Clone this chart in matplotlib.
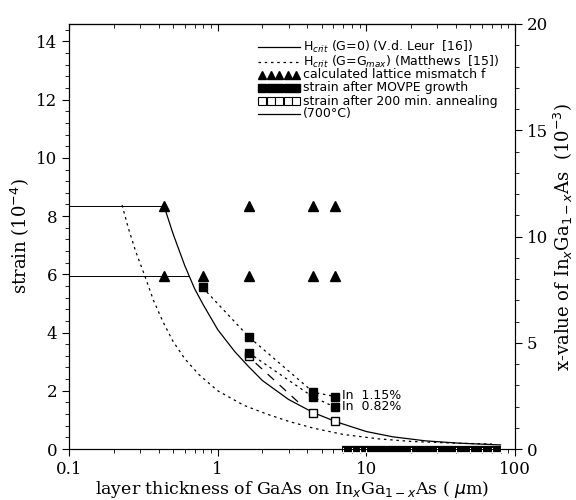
import numpy as np
import matplotlib.pyplot as plt
from matplotlib.ticker import MultipleLocator, LogLocator, NullFormatter

# data
tri_hi_x = [0.435, 1.62, 4.37, 6.17]
tri_hi_y = [8.35, 8.35, 8.35, 8.35]
tri_lo_x = [0.435, 0.79, 1.62, 4.37, 6.17]
tri_lo_y = [5.95, 5.95, 5.95, 5.95, 5.95]

# filled squares (strain after MOVPE growth)
sq115_x = [0.79, 1.62, 4.4, 6.2]
sq115_y = [5.55, 3.85, 1.95, 1.8]
sq082_x = [1.62, 4.4, 6.2]
sq082_y = [3.3, 1.78, 1.43]

# open squares (after annealing)
open_x = [1.62, 4.4, 6.2]
open_y = [3.2, 1.22, 0.95]
anneal_x = [1.8, 3.5]
anneal_y = [2.95, 1.6]

# H_crit G=0 (solid)
hc0_x = [0.435, 0.5, 0.6, 0.7, 0.8, 1.0, 1.3, 1.6, 2.0, 3.0, 4.4, 6.3, 10, 15, 25, 42, 80]
hc0_y = [8.35, 7.4, 6.3, 5.5, 4.95, 4.1, 3.35, 2.85, 2.35, 1.7, 1.25, 0.93, 0.6, 0.42, 0.28, 0.2, 0.14]

# H_crit G=Gmax (dashed)
hcm_x = [0.227, 0.25, 0.28, 0.324, 0.37, 0.43, 0.5, 0.6, 0.75, 1.0, 1.5, 2.14, 3.0, 4.37, 7, 12, 20, 40, 70]
hcm_y = [8.38, 7.6, 6.8, 5.93, 5.1, 4.35, 3.7, 3.1, 2.55, 2.0, 1.5, 1.2, 0.95, 0.72, 0.5, 0.35, 0.26, 0.2, 0.17]

bar_x = [6.85, 81]
bar_ticks = [7, 8, 9, 10, 20, 30, 40, 50, 60, 70, 80]

legend_labels = [
    r'H$_{crit}$ (G=0) (V.d. Leur  [16])',
    r'H$_{crit}$ (G=G$_{max}$) (Matthews  [15])',
    'calculated lattice mismatch f',
    'strain after MOVPE growth',
    'strain after 200 min. annealing',
    '(700°C)',
]

print("plotting...")

plt.rcParams['font.family'] = 'DejaVu Serif'
fig = plt.figure(figsize=(5.76, 5.0), dpi=100)
ax = fig.add_axes([0.12, 0.102, 0.774, 0.85])

lw = 0.9
dash = (0, (2, 3))
ms = 6
# horizontal reference lines
ax.plot([0.1, tri_hi_x[0]], [tri_hi_y[0]] * 2, color='k', lw=0.7)
ax.plot([0.1, 0.64], [tri_lo_y[0]] * 2, color='k', lw=0.7)

ax.plot(hc0_x, hc0_y, color='k', lw=lw)
ax.plot(hcm_x, hcm_y, color='k', lw=lw, ls=dash)

ax.plot(sq115_x, sq115_y, color='k', lw=lw, ls=dash)
ax.plot(sq082_x, sq082_y, color='k', lw=lw, ls=dash)
ax.plot(anneal_x, anneal_y, color='k', lw=lw, ls=(0, (7, 6)))

ax.plot(tri_hi_x, tri_hi_y, ls='none', marker='^', ms=ms + 0.5, color='k')
ax.plot(tri_lo_x, tri_lo_y, ls='none', marker='^', ms=ms + 0.5, color='k')
ax.plot(open_x, open_y, ls='none', marker='s', ms=ms, mfc='white', mec='k', mew=1.0)
ax.plot(sq115_x, sq115_y, ls='none', marker='s', ms=ms, color='k')
ax.plot(sq082_x, sq082_y, ls='none', marker='s', ms=ms, color='k')

ax.text(6.9, 1.85, 'In  1.15%', fontsize=9, family='DejaVu Sans', va='center')
ax.text(6.9, 1.45, 'In  0.82%', fontsize=9, family='DejaVu Sans', va='center')

# thick bar along the bottom axis, with white tick marks in it
ax.plot(bar_x, [0, 0], color='k', lw=4.5, solid_capstyle='butt', clip_on=False, zorder=5)
for t in bar_ticks:
    ax.plot([t, t], [-0.1, 0.05], color='white', lw=0.8, clip_on=False, zorder=6)

ax.set_xscale('log')
ax.set_xlim(0.1, 100)
ax.set_ylim(0, 14.6)
ax.set_xticks([0.1, 1, 10, 100], ['0.1', '1', '10', '100'])
ax.xaxis.set_minor_locator(LogLocator(base=10, subs=np.arange(2, 10)))
ax.xaxis.set_minor_formatter(NullFormatter())
ax.set_yticks(np.arange(0, 15, 2))
ax.yaxis.set_minor_locator(MultipleLocator(0.4))
ax.tick_params(axis='both', which='both', direction='out', labelsize=12)
ax.tick_params(which='major', length=5)
ax.tick_params(which='minor', length=3)

top = ax.secondary_xaxis('top')
top.set_xticks([0.1, 1, 10, 100], ['', '', '', ''])
top.xaxis.set_minor_locator(LogLocator(base=10, subs=np.arange(2, 10)))
top.xaxis.set_minor_formatter(NullFormatter())
top.tick_params(which='both', direction='in')
top.tick_params(which='major', length=5)
top.tick_params(which='minor', length=3)

ax.set_xlabel(r'layer thickness of GaAs on In$_x$Ga$_{1-x}$As ( $\mu$m)', fontsize=12.5, labelpad=1)
ax.set_ylabel(r'strain (10$^{-4}$)', fontsize=13, labelpad=4)

ax2 = ax.twinx()
ax2.set_ylim(0, 20)
ax2.set_yticks([0, 5, 10, 15, 20])
ax2.yaxis.set_minor_locator(MultipleLocator(1))
ax2.tick_params(which='both', direction='out', labelsize=12)
ax2.tick_params(which='major', length=5)
ax2.tick_params(which='minor', length=3)
ax2.set_ylabel(r'x-value of In$_x$Ga$_{1-x}$As  (10$^{-3}$)', fontsize=13, labelpad=3)

# legend drawn by hand (figure pixel coordinates)
W, H = 576.0, 500.0
def fx(px):
    return px / W
def fy(py):
    return 1 - py / H

row_y = [47, 62, 75, 88, 101, 114]
x0, x1, xt = 258, 300, 303
fig.add_artist(plt.Line2D([fx(x0), fx(x1)], [fy(row_y[0])] * 2, color='k', lw=lw))
fig.add_artist(plt.Line2D([fx(x0), fx(x1)], [fy(row_y[1])] * 2, color='k', lw=lw, ls=dash))
mx = np.linspace(x0 + 4, x1 - 4, 5)
fig.add_artist(plt.Line2D(fx(mx), [fy(row_y[2])] * 5, ls='none', marker='^', ms=5.5, color='k'))
fig.add_artist(plt.Line2D(fx(mx), [fy(row_y[3])] * 5, ls='none', marker='s', ms=6, color='k'))
fig.add_artist(plt.Line2D(fx(mx), [fy(row_y[4])] * 5, ls='none', marker='s', ms=6,
                          mfc='white', mec='k', mew=0.8))
fig.add_artist(plt.Line2D([fx(x0), fx(x1)], [fy(row_y[5])] * 2, color='k', lw=lw))
for lab, ry in zip(legend_labels, row_y):
    fig.text(fx(xt), fy(ry), lab, fontsize=9, family='DejaVu Sans', va='center', ha='left')

fig.savefig('out.png', dpi=100)
